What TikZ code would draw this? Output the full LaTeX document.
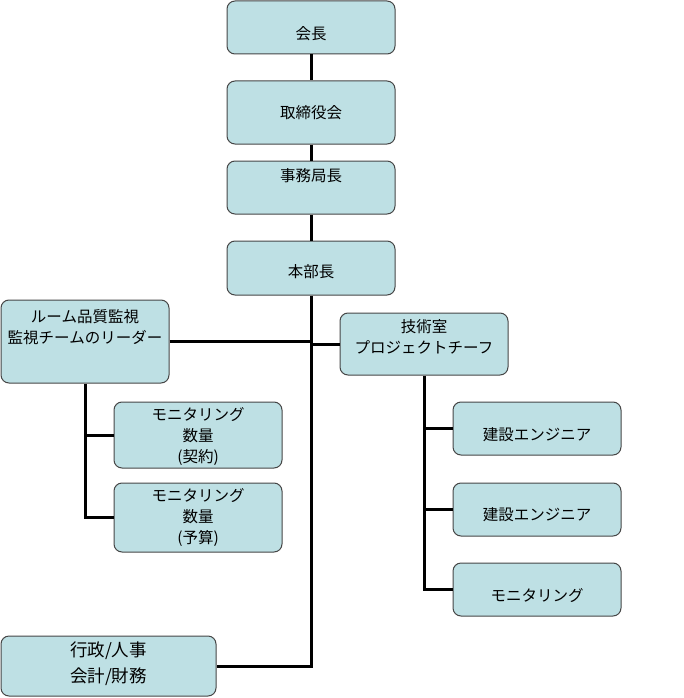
\documentclass[tikz,border=0pt]{standalone}
\usepackage{fontspec}
\newfontfamily\jpfont{Noto Sans CJK JP}
\usetikzlibrary{positioning,calc}
\definecolor{boxfill}{RGB}{190,224,228}
\definecolor{boxline}{RGB}{70,70,70}

\begin{document}
\begin{tikzpicture}[x=1pt, y=-1pt,
  box/.style={draw=boxline, fill=boxfill, line width=1pt, rounded corners=8pt,
              minimum width=168pt, inner sep=0pt},
  txt/.style={font=\jpfont\fontsize{15.5}{21}\selectfont, align=center, inner sep=0pt},
  bigtxt/.style={font=\jpfont\fontsize{17.5}{26}\selectfont, align=center, inner sep=0pt},
  lnk/.style={line width=3pt, draw=black},
]
\useasboundingbox (0,0) rectangle (683,698);
% top chain
\node[box, minimum height=53pt] (kaicho) at (311,27.5) {};
\node[box, minimum height=63pt] (torishimari) at (311,112.5) {};
\node[box, minimum height=53pt] (jimu) at (311,187.5) {};
\node[box, minimum height=54pt] (honbu) at (311,268) {};
\node[txt] (kaicho-t) at (311,34) {会長};
\node[txt] (torishimari-t) at (311,113) {取締役会};
\node[txt] (jimu-t) at (311,176) {事務局長};
\node[txt] (honbu-t) at (311,272) {本部長};
% left and right heads
\node[box, minimum height=83pt] (hinshitsu) at (85,341.5) {};
\node[txt] (hinshitsu-t) at (85,327) {ルーム品質監視\\監視チームのリーダー};
\node[box, minimum height=62pt] (gijutsu) at (424,344) {};
\node[txt] (gijutsu-t) at (424,336.5) {技術室\\プロジェクトチーフ};
% monitoring boxes
\node[box, minimum height=66pt] (mon1) at (198,435) {};
\node[txt] (mon1-t) at (198,437) {モニタリング\\数量\\(契約)};
\node[box, minimum height=69pt] (mon2) at (198,517.5) {};
\node[txt] (mon2-t) at (198,518) {モニタリング\\数量\\(予算)};
% engineers
\node[box, minimum height=53pt] (ken1) at (537,428.5) {};
\node[txt] (ken1-t) at (537,435) {建設エンジニア};
\node[box, minimum height=53pt] (ken2) at (537,509.5) {};
\node[txt] (ken2-t) at (537,515) {建設エンジニア};
\node[box, minimum height=53pt] (mon3) at (537,589.5) {};
\node[txt] (mon3-t) at (537,596) {モニタリング};
% admin
\node[box, minimum width=215pt, minimum height=60pt] (gyosei) at (108.5,666) {};
\node[bigtxt] (gyosei-t) at (108.5,664) {行政/人事\\会計/財務};

\draw[lnk] (kaicho) -- (torishimari);
\draw[lnk] (torishimari) -- (jimu);
\draw[lnk] (jimu) -- (honbu);
\draw[lnk] (honbu.south) |- (gyosei.east);
\draw[lnk] (hinshitsu.east) -- (hinshitsu.east -| honbu.south);
\draw[lnk] (gijutsu.west) -- (gijutsu.west -| honbu.south);
\draw[lnk] (hinshitsu.south) |- (mon2.west);
\draw[lnk] (hinshitsu.south |- mon1.west) -- (mon1.west);
\draw[lnk] (gijutsu.south) |- (mon3.west);
\draw[lnk] (gijutsu.south |- ken1.west) -- (ken1.west);
\draw[lnk] (gijutsu.south |- ken2.west) -- (ken2.west);
\end{tikzpicture}
\end{document}
